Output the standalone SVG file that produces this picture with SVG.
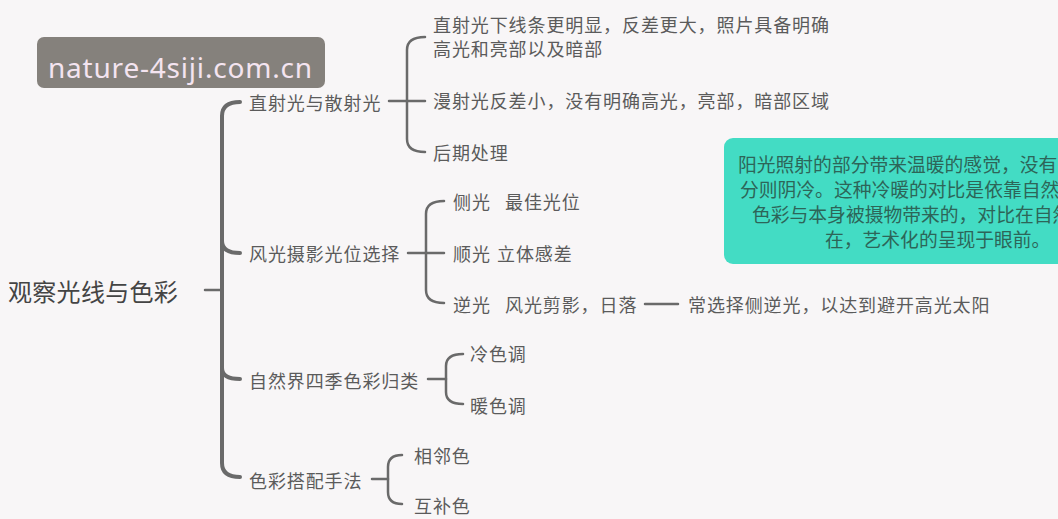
<svg xmlns="http://www.w3.org/2000/svg" width="1058" height="519" viewBox="0 0 1058 519">
<style>
.t{font-family:"Noto Sans CJK SC","Noto Sans",sans-serif;fill:#5b5b5b;font-size:18px;letter-spacing:0.9px;dominant-baseline:central}
.root{font-size:24px;fill:#444;letter-spacing:0.3px}
.note{font-family:"Noto Sans CJK SC","Noto Sans",sans-serif;fill:#2d6558;font-size:18.8px;dominant-baseline:central}
.c{fill:none;stroke:#6a6a6a;stroke-width:2.5;stroke-linecap:round}
.m{stroke-width:4}
</style>
<rect width="1058" height="519" fill="#f8f6f7"/>
<g id="watermark">
<rect x="37" y="37" width="288" height="51" rx="7" fill="#85817c"/>
<text x="48" y="78" font-family="Noto Sans, sans-serif" font-size="28" fill="#f4e4f0" textLength="264">nature-4siji.com.cn</text>
</g>
<g id="connectors">
<path class="c" d="M205,290 L221,290"/>
<path class="c m" d="M240,102 Q222,102 222,116 L222,463 Q222,477 240,477"/>
<path class="c m" d="M222,241 Q222,253 240,253"/>
<path class="c m" d="M222,368 Q222,379 240,379"/>
<path class="c" d="M389,101 L425,101"/>
<path class="c" d="M425,37 Q407,37 407,50 L407,139 Q407,152 425,152"/>
<path class="c" d="M408,253 L444,253"/>
<path class="c" d="M444,201 Q426,201 426,214 L426,290 Q426,303 444,303"/>
<path class="c" d="M428,379 L446,379"/>
<path class="c" d="M463,354 Q446,354 446,366 L446,392 Q446,404 463,404"/>
<path class="c" d="M372,479 L388,479"/>
<path class="c" d="M402,455 Q388,455 388,467 L388,492 Q388,504 402,504"/>
<path class="c" d="M645,304 L678,304" stroke-width="2"/>
</g>
<g id="root"><text class="t root" x="8" y="290">观察光线与色彩</text></g>
<g id="b1"><text class="t" x="249" y="102">直射光与散射光</text></g>
<g id="b1c1"><text class="t" x="433" y="24">直射光下线条更明显，反差更大，照片具备明确</text><text class="t" x="433" y="48">高光和亮部以及暗部</text></g>
<g id="b1c2"><text class="t" x="433" y="100">漫射光反差小，没有明确高光，亮部，暗部区域</text></g>
<g id="b1c3"><text class="t" x="433" y="152">后期处理</text></g>
<g id="b2"><text class="t" x="249" y="253">风光摄影光位选择</text></g>
<g id="b2c1"><text class="t" x="453" y="201">侧光<tspan x="505">最佳光位</tspan></text></g>
<g id="b2c2"><text class="t" x="453" y="253">顺光<tspan x="497">立体感差</tspan></text></g>
<g id="b2c3"><text class="t" x="453" y="304">逆光<tspan x="505">风光剪影，日落</tspan></text></g>
<g id="b2c3a"><text class="t" x="688" y="304">常选择侧逆光，以达到避开高光太阳</text></g>
<g id="b3"><text class="t" x="249" y="380">自然界四季色彩归类</text></g>
<g id="b3c1"><text class="t" x="470" y="353">冷色调</text></g>
<g id="b3c2"><text class="t" x="470" y="405">暖色调</text></g>
<g id="b4"><text class="t" x="249" y="480">色彩搭配手法</text></g>
<g id="b4c1"><text class="t" x="414" y="455">相邻色</text></g>
<g id="b4c2"><text class="t" x="414" y="505">互补色</text></g>
<g id="note">
<rect x="724" y="138" width="350" height="126" rx="9" fill="#43dcc4"/>
<text class="note" x="738" y="163">阳光照射的部分带来温暖的感觉，没有</text>
<text class="note" x="740" y="188">分则阴冷。这种冷暖的对比是依靠自然</text>
<text class="note" x="752" y="213">色彩与本身被摄物带来的，对比在自然</text>
<text class="note" x="825" y="238">在，艺术化的呈现于眼前。</text>
</g>
</svg>
